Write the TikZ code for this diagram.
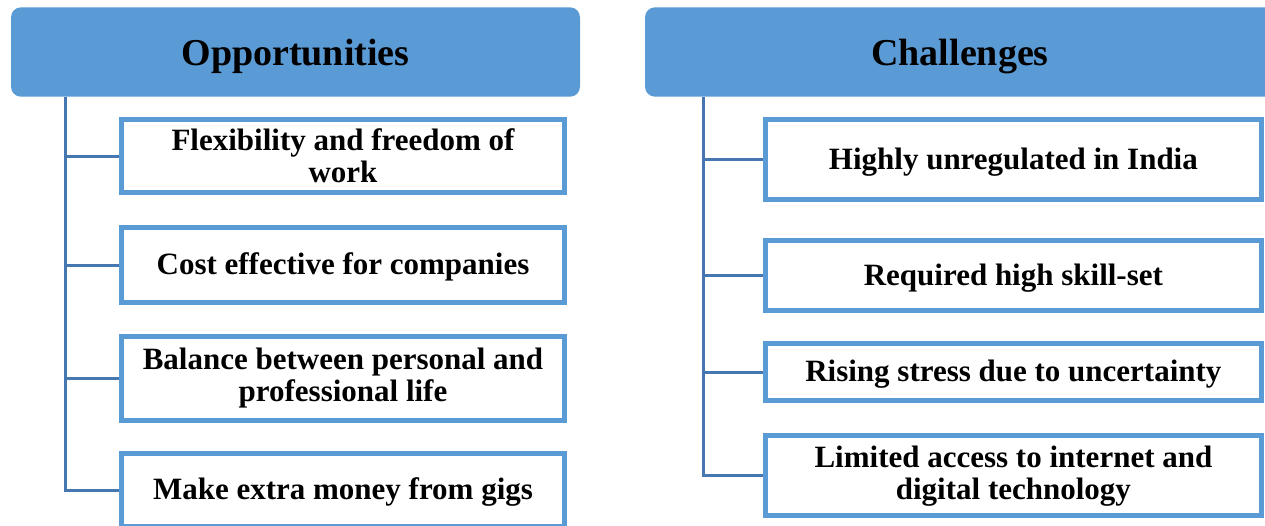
\documentclass[tikz,border=0pt]{standalone}
\usepackage{fontspec}
\setmainfont{Liberation Serif}
\begin{document}
\definecolor{headblue}{HTML}{5B9BD5}
\definecolor{linkblue}{HTML}{4677B0}
\begin{tikzpicture}[x=1pt,y=-1pt,
  header/.style={rectangle, rounded corners=10pt, fill=headblue, inner sep=0pt,
    minimum height=89.4pt, text height=34pt, text depth=8pt,
    font=\fontsize{38}{40}\selectfont\bfseries},
  itembox/.style={rectangle, draw=headblue, line width=5pt, fill=white, inner sep=0pt,
    align=center, font=\fontsize{31}{32}\selectfont\bfseries},
  oneline/.style={text height=26pt, text depth=7pt},
  leftbox/.style={itembox, minimum width=442.4pt},
  rightbox/.style={itembox, minimum width=495.2pt},
  link/.style={draw=linkblue, line width=3pt}]
\clip (0,0) rectangle (1265,525);
\fill[white] (0,0) rectangle (1265,525);

% column headers
\node[header, minimum width=569pt] (opp) at (295.5,52) {Opportunities};
\node[header, minimum width=630pt] (chal) at (960,52) {Challenges};

% trunk tops under each header
\coordinate (lt) at (opp.south -| 65.3,0);
\coordinate (rt) at (chal.south -| 703.7,0);

% opportunities
\node[leftbox, minimum height=72.7pt] (o1) at (343,156.2) {Flexibility and freedom of\\work};
\node[leftbox, oneline, minimum height=75pt] (o2) at (343,265) {Cost effective for companies};
\node[leftbox, minimum height=83.4pt] (o3) at (343,378.5) {Balance between personal and\\professional life};
\node[leftbox, oneline, minimum height=73pt] (o4) at (343,490) {Make extra money from gigs};

% challenges
\node[rightbox, oneline, minimum height=79.4pt] (c1) at (1013.4,159.5) {Highly unregulated in India};
\node[rightbox, oneline, minimum height=70pt] (c2) at (1013.4,275.8) {Required high skill-set};
\node[rightbox, oneline, minimum height=57.6pt] (c3) at (1013.4,372) {Rising stress due to uncertainty};
\node[rightbox, minimum height=80pt] (c4) at (1013.4,475.8) {Limited access to internet and\\digital technology};

% trunks and branches
\path[link] (lt) |- (o4.west);
\foreach \n in {o1,o2,o3} \path[link] (lt |- \n.west) -- (\n.west);
\path[link] (rt) |- (c4.west);
\foreach \n in {c1,c2,c3} \path[link] (rt |- \n.west) -- (\n.west);
\end{tikzpicture}
\end{document}
